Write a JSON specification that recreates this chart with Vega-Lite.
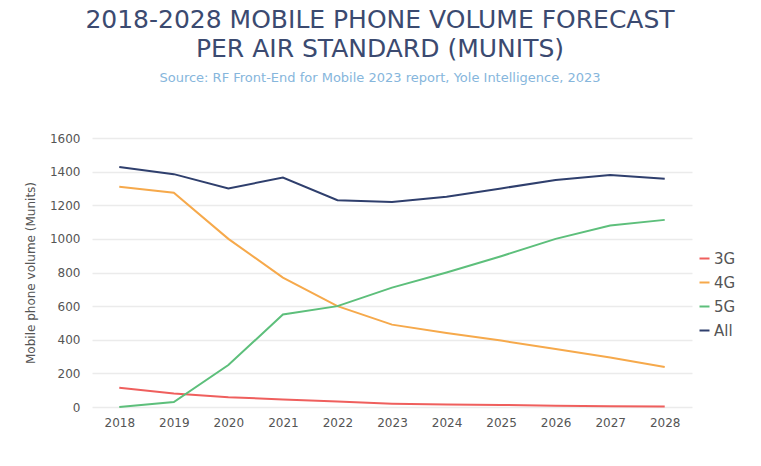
{
  "$schema": "https://vega.github.io/schema/vega-lite/v6.json",
  "width": 600,
  "height": 269,
  "autosize": "none",
  "padding": {"left": 92, "top": 138, "right": 69, "bottom": 59},
  "background": "white",
  "config": {"font": "DejaVu Sans", "view": {"stroke": null}},
  "title": {
    "text": ["2018-2028 MOBILE PHONE VOLUME FORECAST", "PER AIR STANDARD (MUNITS)"],
    "subtitle": "Source:  RF Front-End for Mobile 2023 report, Yole Intelligence, 2023",
    "anchor": "middle",
    "fontSize": 25,
    "fontWeight": "normal",
    "color": "#3b4a70",
    "lineHeight": 29,
    "subtitleFontSize": 13,
    "subtitleColor": "#86b6dc",
    "subtitlePadding": 10,
    "offset": 47,
    "dx": -12
  },
  "data": {
    "values": [
      {"year": "2018", "series": "3G", "value": 115},
      {"year": "2019", "series": "3G", "value": 80},
      {"year": "2020", "series": "3G", "value": 58},
      {"year": "2021", "series": "3G", "value": 45},
      {"year": "2022", "series": "3G", "value": 32},
      {"year": "2023", "series": "3G", "value": 20},
      {"year": "2024", "series": "3G", "value": 15},
      {"year": "2025", "series": "3G", "value": 12},
      {"year": "2026", "series": "3G", "value": 8},
      {"year": "2027", "series": "3G", "value": 5},
      {"year": "2028", "series": "3G", "value": 3},
      {"year": "2018", "series": "4G", "value": 1310},
      {"year": "2019", "series": "4G", "value": 1275},
      {"year": "2020", "series": "4G", "value": 1000},
      {"year": "2021", "series": "4G", "value": 770},
      {"year": "2022", "series": "4G", "value": 600},
      {"year": "2023", "series": "4G", "value": 490},
      {"year": "2024", "series": "4G", "value": 440},
      {"year": "2025", "series": "4G", "value": 395},
      {"year": "2026", "series": "4G", "value": 345},
      {"year": "2027", "series": "4G", "value": 295},
      {"year": "2028", "series": "4G", "value": 238},
      {"year": "2018", "series": "5G", "value": 0},
      {"year": "2019", "series": "5G", "value": 30},
      {"year": "2020", "series": "5G", "value": 250},
      {"year": "2021", "series": "5G", "value": 550},
      {"year": "2022", "series": "5G", "value": 600},
      {"year": "2023", "series": "5G", "value": 710},
      {"year": "2024", "series": "5G", "value": 800},
      {"year": "2025", "series": "5G", "value": 897},
      {"year": "2026", "series": "5G", "value": 1000},
      {"year": "2027", "series": "5G", "value": 1080},
      {"year": "2028", "series": "5G", "value": 1113},
      {"year": "2018", "series": "All", "value": 1428},
      {"year": "2019", "series": "All", "value": 1385},
      {"year": "2020", "series": "All", "value": 1300},
      {"year": "2021", "series": "All", "value": 1365},
      {"year": "2022", "series": "All", "value": 1230},
      {"year": "2023", "series": "All", "value": 1220},
      {"year": "2024", "series": "All", "value": 1250},
      {"year": "2025", "series": "All", "value": 1300},
      {"year": "2026", "series": "All", "value": 1350},
      {"year": "2027", "series": "All", "value": 1380},
      {"year": "2028", "series": "All", "value": 1358}
    ]
  },
  "mark": {"type": "line", "strokeWidth": 2},
  "encoding": {
    "x": {
      "field": "year",
      "type": "ordinal",
      "scale": {"type": "point", "padding": 0.5},
      "axis": {
        "title": null,
        "labelAngle": 0,
        "domain": false,
        "ticks": false,
        "grid": false,
        "labelFontSize": 12,
        "labelColor": "#555555",
        "labelPadding": 10
      }
    },
    "y": {
      "field": "value",
      "type": "quantitative",
      "scale": {"domain": [0, 1600]},
      "axis": {
        "title": "Mobile phone volume (Munits)",
        "titleFontSize": 12,
        "titleFontWeight": "normal",
        "titleColor": "#555555",
        "titlePadding": 12,
        "values": [0, 200, 400, 600, 800, 1000, 1200, 1400, 1600],
        "format": "d",
        "domain": false,
        "ticks": false,
        "labelFontSize": 12,
        "labelColor": "#555555",
        "labelPadding": 12,
        "gridColor": "#ebebeb",
        "gridWidth": 1.5
      }
    },
    "color": {
      "field": "series",
      "type": "nominal",
      "scale": {"domain": ["3G", "4G", "5G", "All"], "range": ["#ef5f5d", "#f6a94b", "#5dbf7b", "#2f3f6d"]},
      "legend": {
        "title": null,
        "symbolType": "stroke",
        "symbolSize": 100,
        "symbolStrokeWidth": 2,
        "labelFontSize": 15,
        "labelColor": "#555555",
        "labelOffset": 2,
        "rowPadding": 8,
        "orient": "none",
        "legendX": 605,
        "legendY": 113
      }
    }
  }
}
